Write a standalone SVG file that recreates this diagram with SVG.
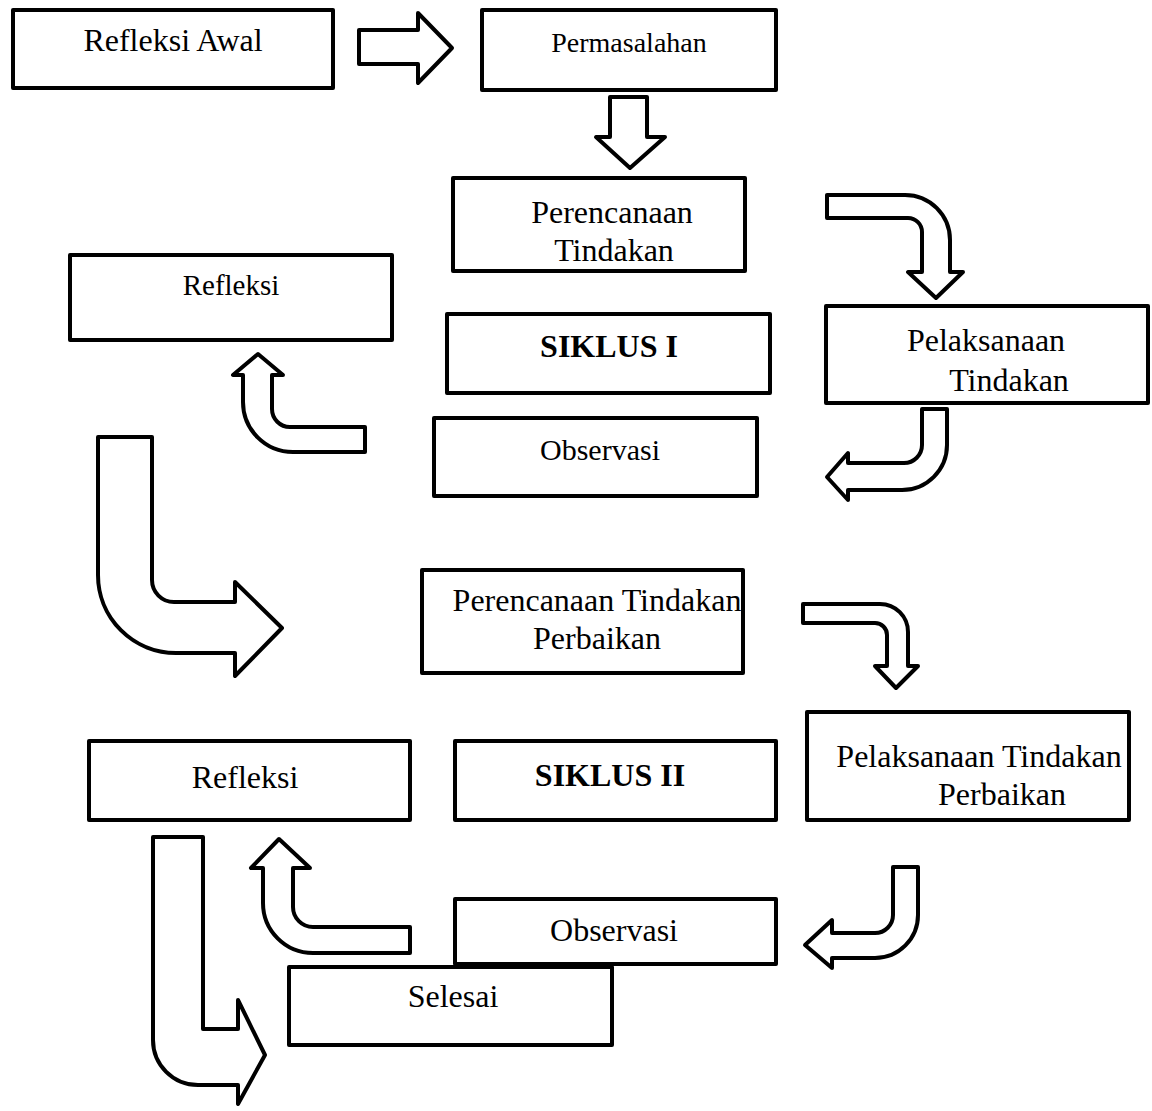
<svg xmlns="http://www.w3.org/2000/svg" width="1152" height="1111" viewBox="0 0 1152 1111">
<style>
.box{fill:#fff;stroke:#000;stroke-width:4;stroke-linejoin:round}
.arr{fill:#fff;stroke:#000;stroke-width:4;stroke-linejoin:round}
text{font-family:"Liberation Serif","Times New Roman",serif;font-size:32px;fill:#000;text-anchor:middle}
.b{font-weight:bold}
.s28{font-size:28px}
.s29{font-size:29px}
.s30{font-size:30px}
</style>
<rect width="1152" height="1111" fill="#fff"/>
<g id="connectors">
<path class="arr" d="M359,30 L418,30 L418,13 L452,48 L418,83 L418,64 L359,64 Z"/>
<path class="arr" d="M610,97 L647,97 L647,137 L665,137 L630,168 L596,137 L610,137 Z"/>
<path class="arr" d="M827,195 L905,195 A45,45 0 0 1 950,240 L950,272 L963,272 L936,298 L908,272 L922,272 L922,232 A14,14 0 0 0 908,218 L827,218 Z"/>
<path class="arr" d="M365,427 L290,427 A18,18 0 0 1 272,409 L272,375 L283,375 L258,354 L233,375 L243,375 L243,402 A50,50 0 0 0 293,452 L365,452 Z"/>
<path class="arr" d="M922,409 L947,409 L947,445 A45,45 0 0 1 902,490 L848,490 L848,500 L827,477 L848,453 L848,463 L904,463 A18,18 0 0 0 922,445 Z"/>
<path class="arr" d="M98,437 L152,437 L152,580 A22,22 0 0 0 174,602 L235,602 L235,582 L282,628 L235,676 L235,653 L176,653 A78,78 0 0 1 98,575 Z"/>
<path class="arr" d="M803,604 L880,604 A28,28 0 0 1 908,632 L908,666 L918,666 L896,688 L875,666 L887,666 L887,635 A12,12 0 0 0 875,623 L803,623 Z"/>
<path class="arr" d="M410,927 L313,927 A20,20 0 0 1 293,907 L293,868 L310,868 L279,839 L251,868 L263,868 L263,903 A50,50 0 0 0 313,953 L410,953 Z"/>
<path class="arr" d="M893,867 L918,867 L918,915 A43,43 0 0 1 875,958 L832,958 L832,968 L805,945 L832,920 L832,933 L875,933 A18,18 0 0 0 893,915 Z"/>
<path class="arr" d="M153,837 L203,837 L203,1029 L238,1029 L238,1000 L265,1055 L238,1104 L238,1085 L198,1085 A45,45 0 0 1 153,1040 Z"/>
</g>
<g id="refleksi-awal"><rect class="box" x="13" y="10" width="320" height="78"/><text x="173" y="51">Refleksi Awal</text></g>
<g id="permasalahan"><rect class="box" x="482" y="10" width="294" height="80"/><text class="s28" x="629" y="52">Permasalahan</text></g>
<g id="perencanaan-1"><rect class="box" x="453" y="178" width="292" height="93"/><text x="612" y="223">Perencanaan</text><text x="614" y="261">Tindakan</text></g>
<g id="refleksi-1"><rect class="box" x="70" y="255" width="322" height="85"/><text class="s29" x="231" y="295">Refleksi</text></g>
<g id="siklus-1"><rect class="box" x="447" y="314" width="323" height="79"/><text class="b" x="609" y="357">SIKLUS I</text></g>
<g id="pelaksanaan-1"><rect class="box" x="826" y="306" width="322" height="97"/><text x="986" y="351">Pelaksanaan</text><text x="1009" y="391">Tindakan</text></g>
<g id="observasi-1"><rect class="box" x="434" y="418" width="323" height="78"/><text class="s30" x="600" y="460">Observasi</text></g>
<g id="perencanaan-2"><rect class="box" x="422" y="570" width="321" height="103"/><text x="597" y="611">Perencanaan Tindakan</text><text x="597" y="649">Perbaikan</text></g>
<g id="pelaksanaan-2"><rect class="box" x="807" y="712" width="322" height="108"/><text x="979" y="767">Pelaksanaan Tindakan</text><text x="1002" y="805">Perbaikan</text></g>
<g id="refleksi-2"><rect class="box" x="89" y="741" width="321" height="79"/><text x="245" y="788">Refleksi</text></g>
<g id="siklus-2"><rect class="box" x="455" y="741" width="321" height="79"/><text class="b" x="610" y="786">SIKLUS II</text></g>
<g id="observasi-2"><rect class="box" x="455" y="899" width="321" height="65"/><text x="614" y="941">Observasi</text></g>
<g id="selesai"><rect class="box" x="289" y="967" width="323" height="78"/><text x="453" y="1007">Selesai</text></g>
</svg>
